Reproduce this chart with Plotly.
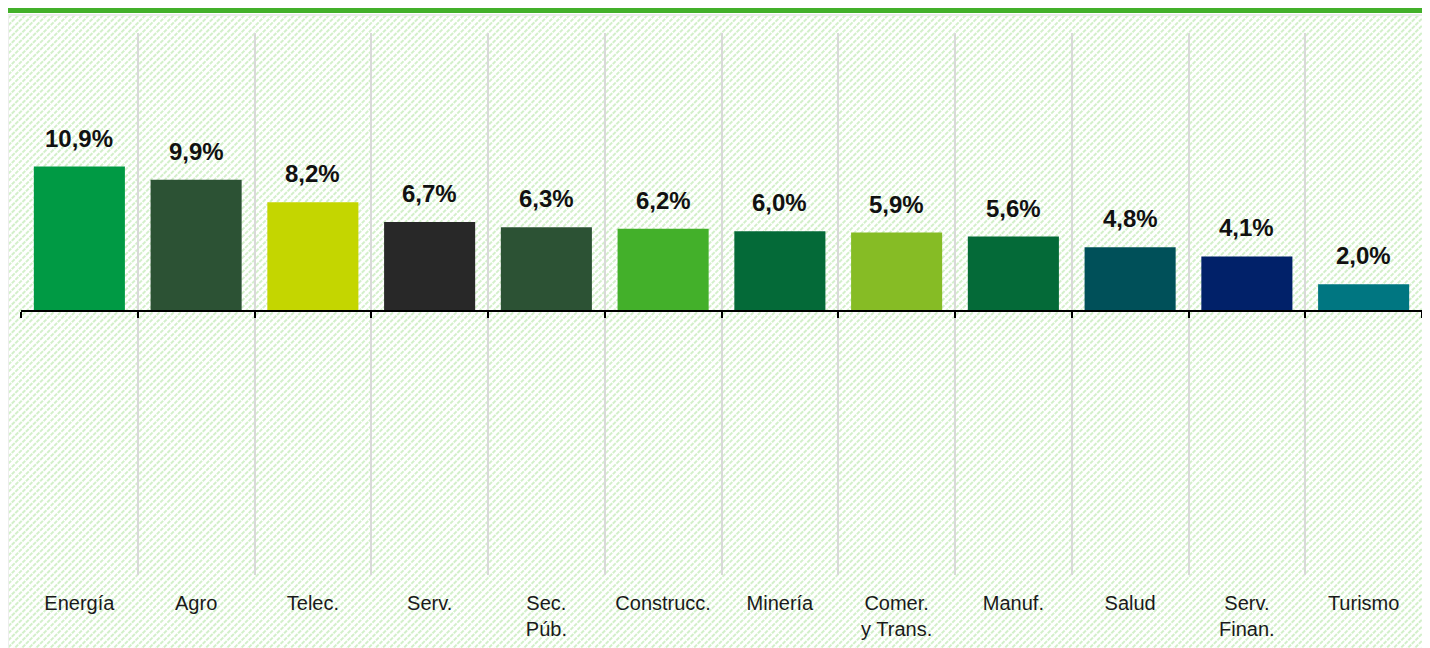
import base64
import plotly.graph_objects as go

categories = ["Energía", "Agro", "Telec.", "Serv.", "Sec.<br>Púb.", "Construcc.",
              "Minería", "Comer.<br>y Trans.", "Manuf.", "Salud", "Serv.<br>Finan.", "Turismo"]
values = [10.9, 9.9, 8.2, 6.7, 6.3, 6.2, 6.0, 5.9, 5.6, 4.8, 4.1, 2.0]
colors = ["#009A44", "#2C5234", "#C4D600", "#282828", "#2C5234", "#43B02A",
          "#046A38", "#86BC25", "#046A38", "#005059", "#012169", "#007681"]

W, H = 1430, 648
L, R, T, B = 13, 16, 25, 81
pw, ph = W - L - R, H - T - B

def px_x(p):
    return (p - L) / pw

def px_y(p):
    return (H - B - p) / ph

# hatched background as svg image
svg = (
    '<svg xmlns="http://www.w3.org/2000/svg" width="1440" height="660">'
    '<defs><pattern id="p" width="5" height="5" patternUnits="userSpaceOnUse" '
    'patternTransform="rotate(45)">'
    '<line x1="1" y1="0" x2="1" y2="5" stroke="#c8ecbd" stroke-width="1.6" stroke-dasharray="2,1"/>'
    '</pattern></defs>'
    '<rect width="1440" height="660" fill="#ffffff"/>'
    '<rect width="1440" height="660" fill="url(#p)"/></svg>'
)
src = "data:image/svg+xml;base64," + base64.b64encode(svg.encode()).decode()

fig = go.Figure()
fig.add_trace(go.Bar(
    x=categories, y=values, marker=dict(color=colors, line=dict(width=0)),
    hoverinfo="skip", showlegend=False,
))
fig.add_trace(go.Scatter(
    x=categories, y=[0] * len(categories), xaxis="x2", yaxis="y",
    mode="markers", marker=dict(opacity=0), hoverinfo="skip", showlegend=False,
))

for c, v in zip(categories, values):
    fig.add_annotation(
        x=c, y=v, text=f"<b>{v:.1f}%</b>".replace(".", ","), showarrow=False,
        yanchor="bottom", yshift=13,
        font=dict(family="Liberation Sans, Arial, sans-serif", size=24, color="#111111"),
    )

ymin, ymax = -20, 21

fig.update_layout(
    width=W, height=H,
    margin=dict(l=L, r=R, t=T, b=B),
    paper_bgcolor="#ffffff",
    plot_bgcolor="rgba(0,0,0,0)",
    bargap=0.22,
    separators=",.",
    font=dict(family="Liberation Sans, Arial, sans-serif", size=20, color="#1a1a1a"),
    xaxis=dict(
        type="category", tickson="boundaries", showgrid=True, gridcolor="#d9d9d9",
        gridwidth=2, ticks="", showline=False, zeroline=False,
        tickfont=dict(size=20, color="#1a1a1a"), ticklabelstandoff=14,
        range=[-0.5, len(categories) - 0.5],
    ),
    xaxis2=dict(
        type="category", overlaying="x", matches="x", anchor="free",
        position=(0 - ymin) / (ymax - ymin), side="bottom",
        tickson="boundaries", ticks="outside", ticklen=6, tickwidth=2, tickcolor="#000000",
        showline=True, linecolor="#000000", linewidth=2, showticklabels=False,
        showgrid=False, zeroline=False,
    ),
    yaxis=dict(range=[ymin, ymax], showgrid=False, zeroline=False,
               showticklabels=False, showline=False, ticks=""),
    images=[dict(
        source=src, xref="paper", yref="paper",
        x=px_x(1), y=px_y(8), sizex=1440 / pw, sizey=660 / ph,
        xanchor="left", yanchor="top", sizing="stretch", layer="below",
    )],
    shapes=[
        dict(type="rect", xref="paper", yref="paper",
             x0=px_x(0), x1=px_x(1430), y0=px_y(0), y1=px_y(5),
             fillcolor="#43B02A", line=dict(width=0), layer="above"),
        dict(type="rect", xref="paper", yref="paper",
             x0=px_x(0), x1=px_x(1460), y0=px_y(7), y1=px_y(680),
             fillcolor="rgba(0,0,0,0)", line=dict(color="#ededed", width=2), layer="below"),
    ],
)

fig.write_html("out.html")
